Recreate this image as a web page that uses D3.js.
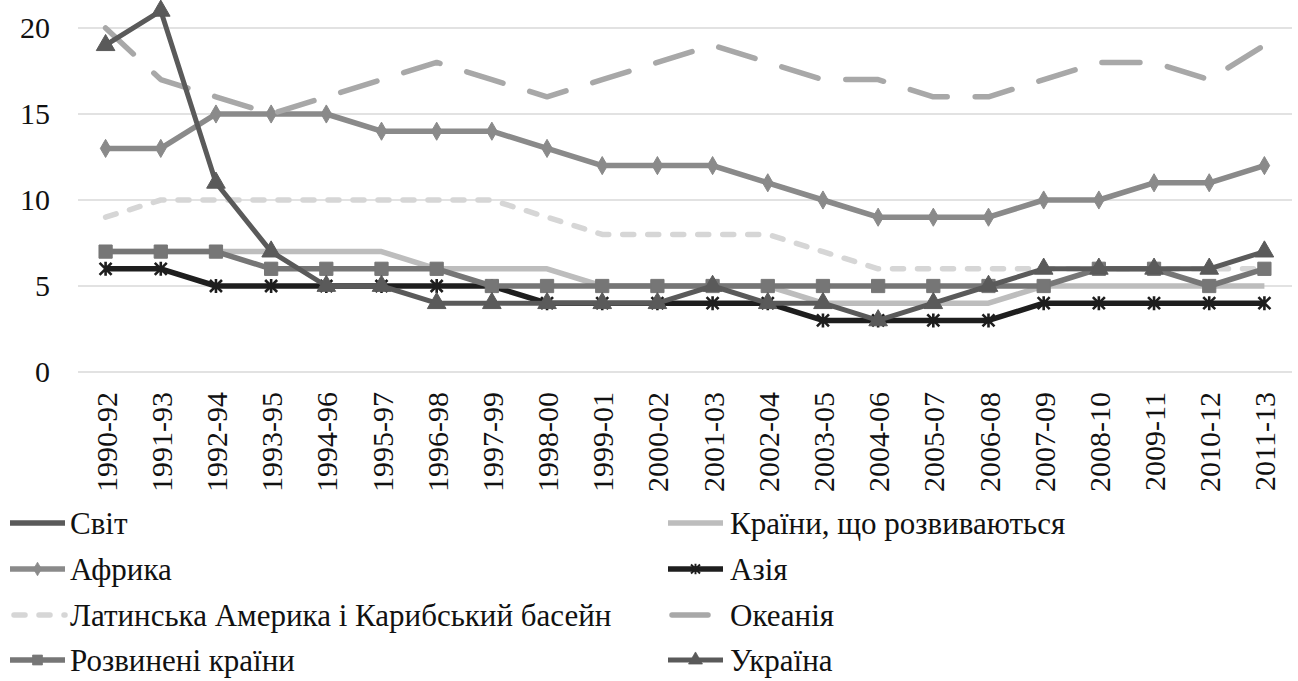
<!DOCTYPE html>
<html>
<head>
<meta charset="utf-8">
<script src="https://cdn.jsdelivr.net/npm/d3@7"></script>
</head>
<body style="margin:0;background:#fff">
<svg id="chart" width="1298" height="681" font-family="Liberation Serif"></svg>
<script>
// Periods (three-year averages)
const periods = ["1990-92","1991-93","1992-94","1993-95","1994-96","1995-97","1996-98","1997-99",
  "1998-00","1999-01","2000-02","2001-03","2002-04","2003-05","2004-06","2005-07","2006-08",
  "2007-09","2008-10","2009-11","2010-12","2011-13"];

// Series values by region
const world      = periods.map(() => null);
const developing = [7,7,7,7,7,7,6,6,6,5,5,5,5,4,4,4,4,5,5,5,5,5];
const africa     = [13,13,15,15,15,14,14,14,13,12,12,12,11,10,9,9,9,10,10,11,11,12];
const asia       = [6,6,5,5,5,5,5,5,4,4,4,4,4,3,3,3,3,4,4,4,4,4];
const latinAm    = [9,10,10,10,10,10,10,10,9,8,8,8,8,7,6,6,6,6,6,6,6,6];
const oceania    = [20,17,16,15,16,17,18,17,16,17,18,19,18,17,17,16,16,17,18,18,17,19];
const developed  = [7,7,7,6,6,6,6,5,5,5,5,5,5,5,5,5,5,5,6,6,5,6];
const ukraine    = [19,21,11,7,5,5,4,4,4,4,4,5,4,4,3,4,5,6,6,6,6,7];

const yTicks = [0, 5, 10, 15, 20];

// Series definitions in drawing order
const series = [
  { name: "Світ", values: world, color: "#5a5a5a", width: 5.5, dash: null, marker: null },
  { name: "Країни, що розвиваються", values: developing, color: "#bdbdbd", width: 5.5, dash: null, marker: null },
  { name: "Африка", values: africa, color: "#8a8a8a", width: 5.5, dash: null, marker: "diamond" },
  { name: "Азія", values: asia, color: "#1e1e1e", width: 5.5, dash: null, marker: "asterisk" },
  { name: "Латинська Америка і Карибський басейн", values: latinAm, color: "#d6d6d6", width: 5.5, dash: "11,14", marker: null },
  { name: "Океанія", values: oceania, color: "#a8a8a8", width: 5.5, dash: "38,28", marker: null },
  { name: "Розвинені країни", values: developed, color: "#767676", width: 5.5, dash: null, marker: "square" },
  { name: "Україна", values: ukraine, color: "#5a5a5a", width: 5, dash: null, marker: "triangle" }
];

const FONT = "Liberation Serif";

const svg = d3.select("#chart");
const plot = { left: 78, right: 1292, top: 28, bottom: 372 };

const x = d3.scalePoint().domain(periods).range([plot.left, plot.right]).padding(0.5);
const y = d3.scaleLinear().domain([0, 20]).range([plot.bottom, plot.top]);

// Gridlines
svg.append("g").selectAll("line").data(yTicks).join("line")
  .attr("x1", plot.left).attr("x2", plot.right)
  .attr("y1", d => y(d)).attr("y2", d => y(d))
  .attr("stroke", "#d9d9d9").attr("stroke-width", 1.3);

// Y axis labels
const yAxis = svg.append("g").attr("transform", `translate(${plot.left},0)`)
  .call(d3.axisLeft(y).tickValues(yTicks).tickSize(0).tickPadding(28))
  .attr("font-family", FONT).attr("font-size", 30);
yAxis.select(".domain").remove();
yAxis.selectAll("text").attr("fill", "#111");

// X axis labels (rotated)
const xAxis = svg.append("g").attr("transform", `translate(0,${plot.bottom})`)
  .call(d3.axisBottom(x).tickSize(0))
  .attr("font-family", FONT).attr("font-size", 30);
xAxis.select(".domain").remove();
xAxis.selectAll("text")
  .attr("fill", "#111")
  .attr("text-anchor", "end")
  .attr("dy", "0.35em")
  .attr("transform", "rotate(-90)")
  .attr("x", -20).attr("y", 0);

// Marker shapes
function markerPath(type) {
  switch (type) {
    case "diamond": return d3.symbol(d3.symbolDiamond, 95)();
    case "square": return d3.symbol(d3.symbolSquare, 175)();
    case "triangle": return d3.symbol(d3.symbolTriangle, 150)();
    case "asterisk": return "M-6,-6L6,6M-6,6L6,-6M0,-7L0,7";
    default: return null;
  }
}

function drawMarker(g, type, color) {
  const p = g.append("path").attr("d", markerPath(type));
  if (type === "asterisk") {
    p.attr("fill", "none").attr("stroke", color).attr("stroke-width", 2.6);
  } else {
    p.attr("fill", color).attr("stroke", color).attr("stroke-width", 1).attr("stroke-linejoin", "round");
  }
  return p;
}

const line = d3.line()
  .defined(d => d.v != null)
  .x(d => x(d.p))
  .y(d => y(d.v));

const lines = svg.append("g");
series.forEach(s => {
  const pts = periods.map((p, i) => ({ p, v: s.values[i] }));
  const g = lines.append("g");
  g.append("path")
    .datum(pts)
    .attr("d", line)
    .attr("fill", "none")
    .attr("stroke", s.color)
    .attr("stroke-width", s.width)
    .attr("stroke-linejoin", "round")
    .attr("stroke-linecap", s.dash ? "round" : "butt")
    .attr("stroke-dasharray", s.dash);
  if (s.marker) {
    pts.filter(d => d.v != null).forEach(d => {
      const m = g.append("g").attr("transform", `translate(${x(d.p)},${y(d.v)})`);
      drawMarker(m, s.marker, s.color);
    });
  }
});

// Legend: two columns, four rows
const legend = svg.append("g").attr("font-family", FONT).attr("font-size", 31);
const colX = [10, 668];
const rowY = [523, 569, 615, 660];
series.forEach((s, i) => {
  const col = i % 2, row = Math.floor(i / 2);
  const g = legend.append("g").attr("transform", `translate(${colX[col]},${rowY[row]})`);
  const len = 55;
  const x2 = s.name === "Океанія" ? 40 : len;
  g.append("line")
    .attr("x1", s.dash ? 4 : 0).attr("x2", x2).attr("y1", 0).attr("y2", 0)
    .attr("stroke", s.color).attr("stroke-width", s.width)
    .attr("stroke-linecap", s.dash ? "round" : "butt")
    .attr("stroke-dasharray", s.name === "Океанія" ? null : s.dash);
  if (s.marker) {
    const m = g.append("g").attr("transform", `translate(${len / 2},0)`);
    drawMarker(m, s.marker, s.color).attr("transform", "scale(0.75)");
  }
  g.append("text")
    .attr("x", col === 0 ? 60 : 62).attr("y", 0).attr("dy", "0.35em")
    .attr("fill", "#111")
    .text(s.name);
});
</script>
</body>
</html>
